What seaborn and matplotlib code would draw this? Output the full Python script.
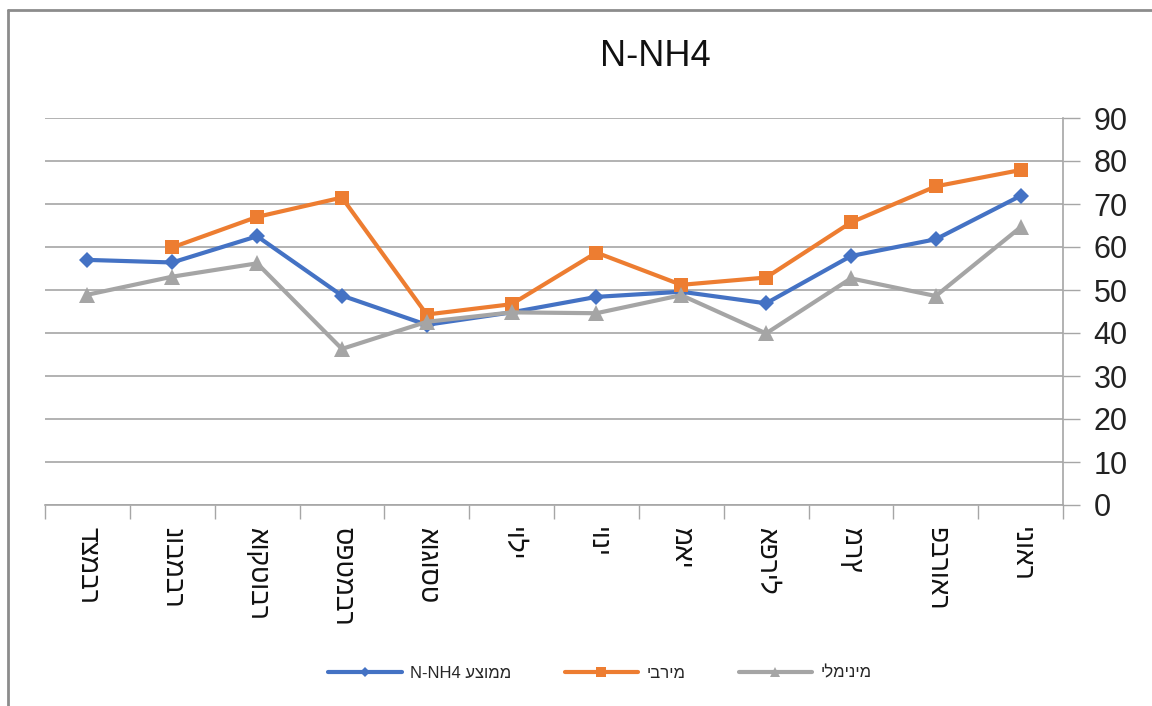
import pandas as pd
import matplotlib.pyplot as plt
import seaborn as sns
from matplotlib.lines import Line2D

# Months (logical Hebrew order), January first - axis is drawn right-to-left
months = ["ינואר", "פברואר", "מרץ", "אפריל", "מאי", "יוני",
          "יולי", "אוגוסט", "ספטמבר", "אוקטובר", "נובמבר", "דצמבר"]

# Values
avg_vals = [71.9, 61.8, 57.9, 46.9, 49.6, 48.4, 44.8, 41.9, 48.7, 62.5, 56.4, 57.0]
max_vals = [77.9, 74.1, 65.7, 52.9, 51.2, 58.7, 46.7, 44.3, 71.5, 67.0, 59.9, None]
min_vals = [64.6, 48.6, 52.7, 39.9, 48.8, 44.6, 44.8, 42.6, 36.3, 56.2, 53.1, 48.9]

# Legend labels as they should read on screen (Hebrew part reversed for RTL display)
lbl_avg = "N-NH4 " + "ממוצע"[::-1]
lbl_max = "מירבי"[::-1]
lbl_min = "מינימלי"[::-1]

y_ticks = list(range(0, 100, 10))

sns.set_theme(style="white")
plt.rcParams["font.family"] = ["Liberation Sans", "DejaVu Sans"]

df = pd.DataFrame({
    "pos": range(len(months)),
    "avg": avg_vals,
    "max": max_vals,
    "min": min_vals,
})

fig = plt.figure(figsize=(11.52, 7.06), dpi=100)
ax = fig.add_axes([45 / 1152, 1 - 505 / 706, (1063 - 45) / 1152, (505 - 118) / 706])

series = [
    ("avg", lbl_avg, "#4472C4", "D", 8),
    ("max", lbl_max, "#ED7D31", "s", 10),
    ("min", lbl_min, "#A5A5A5", "^", 11),
]
for col, lbl, color, marker, ms in series:
    sns.lineplot(data=df, x="pos", y=col, ax=ax, color=color, marker=marker,
                 markersize=ms, markeredgewidth=0, linewidth=3, label=lbl,
                 zorder=3)

# y axis on the right
ax.set_ylim(0, 90)
ax.set_yticks(y_ticks)
ax.yaxis.tick_right()
ax.tick_params(axis="y", labelsize=22, length=12, width=1, color="#A6A6A6",
               pad=10, labelcolor="#222222", right=True, left=False)
ax.grid(axis="y", color="#A6A6A6", linewidth=1.2)
ax.set_axisbelow(True)

# x axis: categories right-to-left, ticks on category boundaries
ax.set_xlim(len(months) - 0.5, -0.5)
ax.set_xticks(range(len(months)))
ax.set_xticklabels(months, rotation=-90, fontsize=19, va="top", ha="center",
                   color="#111111")
ax.set_xticks([i - 0.5 for i in range(len(months) + 1)], minor=True)
ax.tick_params(axis="x", which="major", length=0, pad=16)
ax.tick_params(axis="x", which="minor", length=10, width=1, color="#A6A6A6",
               bottom=True)
ax.set_xlabel("")
ax.set_ylabel("")

for side in ["top", "left"]:
    ax.spines[side].set_visible(False)
for side in ["right", "bottom"]:
    ax.spines[side].set_color("#A6A6A6")
    ax.spines[side].set_linewidth(1.2)

ax.legend_.remove()
handles, labels = ax.get_legend_handles_labels()
fig.legend(handles, labels, loc="center", bbox_to_anchor=(600 / 1152, 1 - 673 / 706),
           ncol=3, frameon=False, fontsize=12, handlelength=4.4, columnspacing=3.2,
           handletextpad=0.5, markerscale=0.7)

fig.text(655 / 1152, 1 - 57 / 706, "N-NH4", ha="center", va="center",
         fontsize=26, color="#111111")

# chart-area border (left and top edges visible)
fig.add_artist(Line2D([8 / 1152, 8 / 1152], [0, 1 - 10 / 706],
                      transform=fig.transFigure, color="#8C8C8C", linewidth=2))
fig.add_artist(Line2D([8 / 1152, 1], [1 - 10 / 706, 1 - 10 / 706],
                      transform=fig.transFigure, color="#8C8C8C", linewidth=2))

fig.savefig("out.png", dpi=100)
